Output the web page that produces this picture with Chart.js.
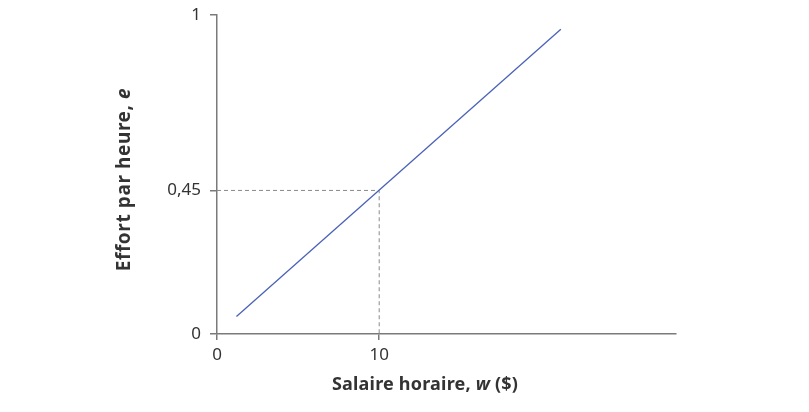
<!DOCTYPE html>
<html>
<head>
<meta charset="utf-8">
<script src="https://cdn.jsdelivr.net/npm/chart.js@4"></script>
<style>
  html, body { margin: 0; padding: 0; background: #fff; }
  #wrap { width: 809px; height: 412px; }
</style>
</head>
<body>
<div id="wrap"><canvas id="myChart"></canvas></div>
<script>
'use strict';

// effort curve
let wage = [1.2, 21.2];
let effort = [0.055, 0.955];

// the marked point
let pointW = 10;
let pointE = 0.45;

let xTicks = [0, 10];
let yTicks = [0, 0.45, 1];
let xMax = 28.3;

let fontName = '"Noto Sans", "Open Sans", sans-serif';
let axisColor = '#7a7a7a';

let curve = [];
for (let i = 0; i < wage.length; i++) {
  curve.push({x: wage[i], y: effort[i]});
}

let guide = [
  {x: 0, y: pointE},
  {x: pointW, y: pointE},
  {x: pointW, y: 0}
];

function drawRuns(ctx, runs, x, y, size, spacing) {
  // runs: [text, italic]
  ctx.letterSpacing = spacing + 'px';
  let total = 0;
  for (let r of runs) {
    ctx.font = (r[1] ? 'italic ' : '') + 'bold ' + size + 'px ' + fontName;
    total += ctx.measureText(r[0]).width;
  }
  let cx = x - total / 2;
  for (let r of runs) {
    ctx.font = (r[1] ? 'italic ' : '') + 'bold ' + size + 'px ' + fontName;
    ctx.fillText(r[0], cx, y);
    cx += ctx.measureText(r[0]).width;
  }
  ctx.letterSpacing = '0px';
}

let axisTitles = {
  id: 'axisTitles',
  afterDraw(chart) {
    let ctx = chart.ctx;
    let area = chart.chartArea;
    ctx.save();
    ctx.fillStyle = '#333';
    ctx.textBaseline = 'middle';
    ctx.textAlign = 'left';
    drawRuns(ctx, [['Salaire horaire, ', false], ['w', true], [' ($)', false]], area.left + 208, area.bottom + 51, 18, 0.2);
    ctx.translate(area.left - 92, (area.top + area.bottom) / 2 + 5);
    ctx.rotate(-Math.PI / 2);
    drawRuns(ctx, [['Effort par heure, ', false], ['e', true]], 0, 0, 19, 0.6);
    ctx.restore();
  }
};

let ctx = document.getElementById('myChart').getContext('2d');
let myChart = new Chart(ctx, {
  type: 'scatter',
  data: {
    datasets: [{
      data: curve,
      showLine: true,
      borderColor: '#4a62b8',
      borderWidth: 1.3,
      pointRadius: 0
    }, {
      data: guide,
      showLine: true,
      borderColor: '#8a8a8a',
      borderWidth: 1,
      borderDash: [4, 3],
      pointRadius: 0
    }]
  },
  options: {
    responsive: true,
    maintainAspectRatio: false,
    animation: false,
    layout: {
      padding: {left: 0, right: 133, top: 15, bottom: 0}
    },
    plugins: {
      legend: {display: false},
      tooltip: {enabled: false}
    },
    scales: {
      x: {
        type: 'linear',
        min: 0,
        max: xMax,
        afterBuildTicks: function (scale) {
          scale.ticks = xTicks.map(v => ({value: v}));
        },
        afterFit: function (scale) {
          scale.height = 78;
        },
        border: {color: axisColor, width: 1.5},
        grid: {drawOnChartArea: false, drawTicks: true, tickLength: 6, color: axisColor, lineWidth: 1.5},
        ticks: {
          color: '#333',
          padding: 5,
          font: {family: fontName, size: 17},
          callback: v => String(v).replace('.', ',')
        }
      },
      y: {
        type: 'linear',
        min: 0,
        max: 1,
        afterBuildTicks: function (scale) {
          scale.ticks = yTicks.map(v => ({value: v}));
        },
        afterFit: function (scale) {
          scale.width = 217;
          scale.paddingTop = 0;
          scale.paddingBottom = 0;
        },
        border: {color: axisColor, width: 1.5},
        grid: {drawOnChartArea: false, drawTicks: true, tickLength: 7, color: axisColor, lineWidth: 1.5},
        ticks: {
          color: '#333',
          padding: 9,
          font: {family: fontName, size: 17},
          callback: v => String(v).replace('.', ',')
        }
      }
    }
  },
  plugins: [axisTitles]
});
</script>
</body>
</html>
